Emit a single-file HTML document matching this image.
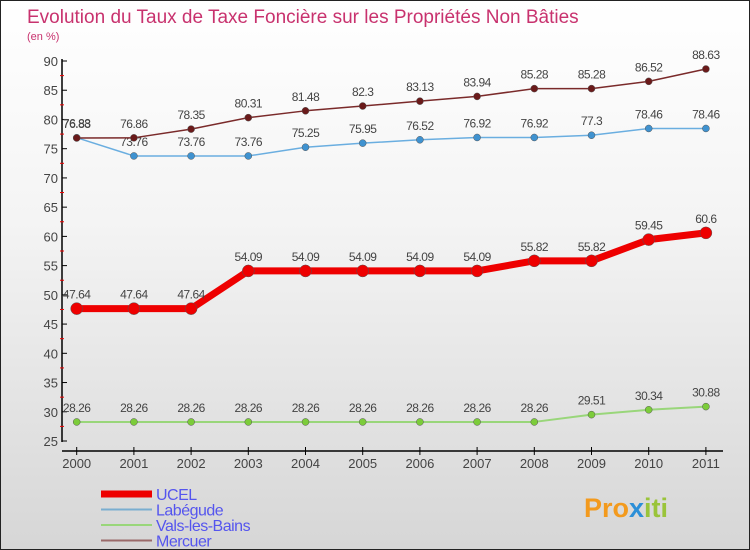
<!DOCTYPE html>
<html><head><meta charset="utf-8"><style>
body{margin:0}
#c{width:750px;height:550px;position:relative;overflow:hidden;background:linear-gradient(#fff 0%,#f4f4f4 40%,#d6d6d6 100%);box-sizing:border-box;border:1px solid #222;font-family:"Liberation Sans",sans-serif}
</style></head><body>
<div id="c">
<svg width="750" height="550" style="position:absolute;left:0;top:0">
<text x="26" y="22" font-size="19" fill="#c8326e">Evolution du Taux de Taxe Foncière sur les Propriétés Non Bâties</text>
<text x="26" y="39" font-size="11" fill="#c8326e">(en %)</text>
<g id="axes"></g><g id="series"></g><g id="legend"></g>
<text x="583" y="516" font-size="27" font-weight="bold" fill="#f39a1d">Pro<tspan fill="#2b8fd8">x</tspan><tspan fill="#9ac43a">iti</tspan></text>
</svg>
</div>
<script>
const years=["2000","2001","2002","2003","2004","2005","2006","2007","2008","2009","2010","2011"];
const yTicks=[25,30,35,40,45,50,55,60,65,70,75,80,85,90];
const ucel=[47.64,47.64,47.64,54.09,54.09,54.09,54.09,54.09,55.82,55.82,59.45,60.6];
const labegude=[76.88,73.76,73.76,73.76,75.25,75.95,76.52,76.92,76.92,77.3,78.46,78.46];
const vals=[28.26,28.26,28.26,28.26,28.26,28.26,28.26,28.26,28.26,29.51,30.34,30.88];
const mercuer=[76.83,76.86,78.35,80.31,81.48,82.3,83.13,83.94,85.28,85.28,86.52,88.63];
const ucelLbl=["47.64","47.64","47.64","54.09","54.09","54.09","54.09","54.09","55.82","55.82","59.45","60.6"];
const labLbl=["76.88","73.76","73.76","73.76","75.25","75.95","76.52","76.92","76.92","77.3","78.46","78.46"];
const valsLbl=["28.26","28.26","28.26","28.26","28.26","28.26","28.26","28.26","28.26","29.51","30.34","30.88"];
const merLbl=["76.83","76.86","78.35","80.31","81.48","82.3","83.13","83.94","85.28","85.28","86.52","88.63"];
const NS="http://www.w3.org/2000/svg";
const X=i=>75.7+i*57.2;
const Y=v=>440-(v-25)*380/65;
function mk(tag,at,parent,txt){const e=document.createElementNS(NS,tag);for(const k in at)e.setAttribute(k,at[k]);if(txt!==undefined)e.textContent=txt;parent.appendChild(e);return e;}
const ax=document.getElementById('axes');
let e=mk('line',{x1:61,y1:58,x2:61,y2:441,stroke:'#000','stroke-width':1.5},ax);


e=mk('line',{x1:61,y1:450,x2:722,y2:450,stroke:'#000','stroke-width':1.5},ax);


yTicks.forEach(t=>{const y=Y(t);mk('line',{x1:61,y1:y,x2:66,y2:y,stroke:'#000'},ax);
 if(t<90)mk('line',{x1:59,y1:Y(t+2.5),x2:63,y2:Y(t+2.5),stroke:'#e00'},ax);
 e=mk('text',{x:57,y:y+5,'font-size':13,fill:'#444','text-anchor':'end'},ax,String(t));
 
 });
years.forEach((yr,i)=>{mk('line',{x1:X(i),y1:446,x2:X(i),y2:454,stroke:'#000'},ax);
 e=mk('text',{x:X(i),y:467,'font-size':13,fill:'#444','text-anchor':'middle'},ax,yr);
 
 });
const sg=document.getElementById('series');
function series(name,vals_,lbl,color,w,r,dot){
 const g=mk('g',{},sg);
 
 
 mk('polyline',{points:vals_.map((v,i)=>X(i)+','+Y(v)).join(' '),fill:'none',stroke:color,'stroke-width':w,'stroke-linejoin':'round'},g);
 vals_.forEach((v,i)=>{const c=mk('circle',{cx:X(i),cy:Y(v),r:r,fill:dot,stroke:'#555','stroke-width':0.5},g);
  
  
  const t=mk('text',{x:X(i),y:Y(v)-10,'font-size':12,fill:'#444','text-anchor':'middle','letter-spacing':'-0.5'},g,lbl[i]);
  
  });
}
series('vals-les-bains',vals,valsLbl,'#99d67a',2,3.5,'#7ccc3a');
series('labegude',labegude,labLbl,'#6aaee0',1.5,3.5,'#3f92d0');
series('mercuer',mercuer,merLbl,'#7a2a2a',1.5,3.5,'#6a1a1a');
series('ucel',ucel,ucelLbl,'#ee0000',7,6,'#ee0000');
const lg=document.getElementById('legend');
[['UCEL','#ee0000',7],['Labégude','#7aaed0',2],['Vals-les-Bains','#99d67a',2],['Mercuer','#9a6a6a',2]].forEach((d,i)=>{
 const y=493+i*15.5;
 const g=mk('g',{},lg);
 
 
 mk('line',{x1:100,y1:y,x2:151,y2:y,stroke:d[1],'stroke-width':d[2]},g);
 mk('text',{x:155,y:y+6,'font-size':16,fill:'#5555ee','letter-spacing':'-0.5'},g,d[0]);
});
</script>
</body></html>
